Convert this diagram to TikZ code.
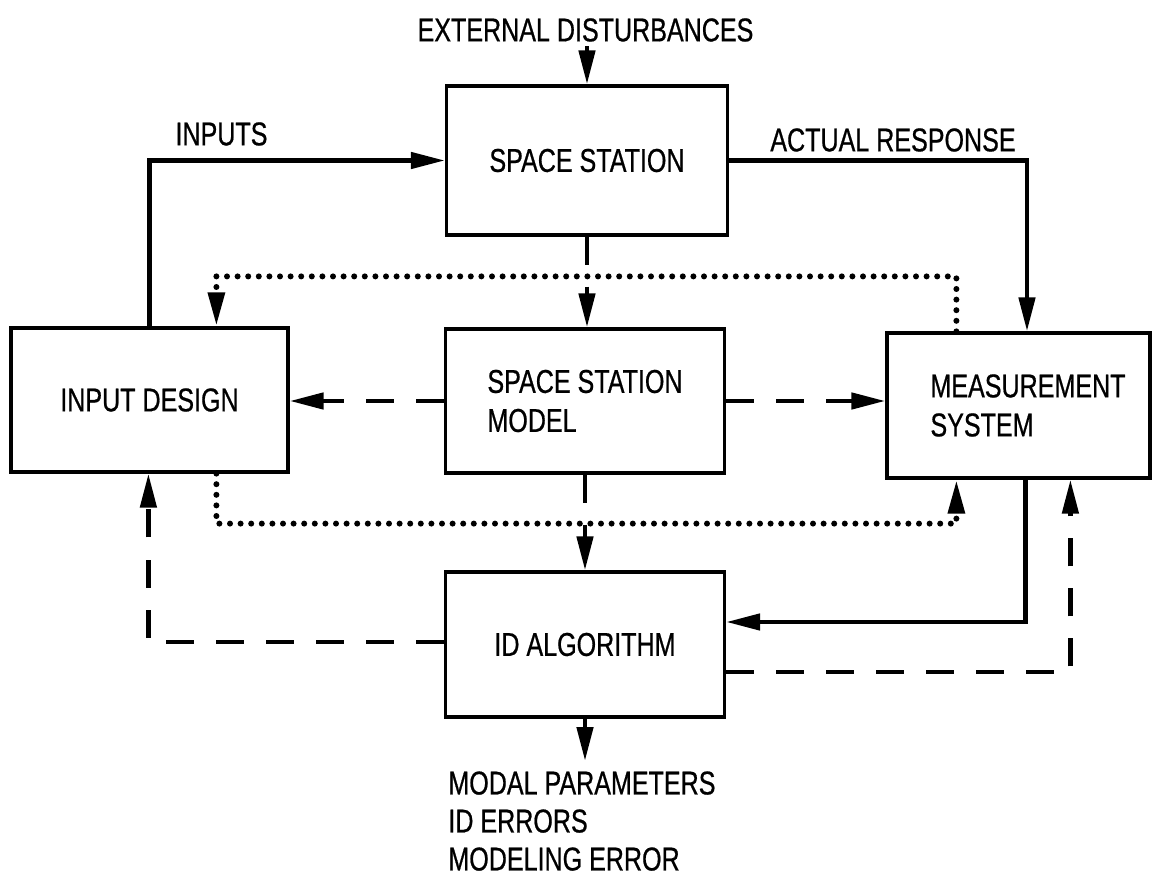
\documentclass[tikz,border=0pt]{standalone}
\usepackage{fontspec}
\setmainfont{Liberation Sans}[FakeStretch=0.76,FakeBold=0.6]
\usetikzlibrary{arrows.meta,calc}
\begin{document}
\begin{tikzpicture}[x=0.5pt,y=-0.5pt,
  every node/.style={font=\fontsize{16.5}{19.5}\selectfont},
  blk/.style={draw, line width=1.6pt, inner sep=0pt, align=left},
  arr/.style={-{Triangle[length=17pt,width=8pt]}},
  solidln/.style={line width=2.3pt},
  dashln/.style={line width=2.3pt, dash pattern=on 14pt off 11pt},
  dotln/.style={line width=3pt, line cap=round, dash pattern=on 0pt off 5.3pt},
  lbl/.style={inner sep=0pt}]
\fill[white] (0,0) rectangle (1158,877);
\useasboundingbox (0,0) rectangle (1158,877);

% blocks
\node[blk, minimum width=140.5pt, minimum height=74.5pt] (ss) at (587,160.5) {SPACE STATION};
\node[blk, minimum width=138.5pt, minimum height=72pt] (id) at (149.5,400) {INPUT DESIGN};
\node[blk, minimum width=139.5pt, minimum height=72pt] (model) at (585,401) {SPACE STATION\\MODEL};
\node[blk, minimum width=131.5pt, minimum height=72.5pt] (ms) at (1018.5,405.5) {\hspace*{9.5pt}MEASUREMENT\\\hspace*{9.5pt}SYSTEM};
\node[blk, minimum width=139.5pt, minimum height=72.5pt] (alg) at (585,644.5) {ID ALGORITHM};

% labels
\node[lbl] (ext) at (585.5,30) {EXTERNAL DISTURBANCES};
\node[lbl] (inp) at (221.5,134) {INPUTS};
\node[lbl] (act) at (893,140) {ACTUAL RESPONSE};
\node[lbl, anchor=north west, align=left, font=\fontsize{16.5}{19}\selectfont] (out) at (448,771) {MODAL PARAMETERS\\ID ERRORS\\MODELING ERROR};

% solid connectors
\draw[solidln,arr] ($(ext.south -| ss.north)+(0,4)$) -- (ss.north);
\draw[solidln,arr] (id.north) |- (ss.west);
\draw[solidln,arr] (ss.east) -| ($(ms.north)+(8.5,0)$);
\draw[solidln,arr] ($(ms.south west)+(140,0)$) |- ($(alg.east)+(0,-22.5)$);
\draw[solidln,arr] (alg.south) -- ($(out.north -| alg.south)+(0,-10)$);

% dashed connectors
\draw[dashln,arr] (ss.south) -- (ss.south |- model.north);
\draw[dashln,arr] (model.west) -- (model.west -| id.east);
\draw[dashln,arr] (model.east) -- (model.east -| ms.west);
\draw[dashln,arr] (model.south) -- (alg.north);
\draw[dashln,arr] ($(alg.east)+(0,27.5)$) -| ($(ms.south west)+(185,0)$);
\draw[dashln,arr] ($(alg.west)+(0,-2.5)$) -| ($(id.south west)+(139,0)$);

% dotted connectors
\draw[dotln,arr] ($(ms.north west)+(71,0)$) -- ++(0,-55) -| ($(id.north west)+(207,0)$);
\draw[dotln,arr] ($(id.south west)+(207,0)$) -- ++(0,50) -| ($(ms.south west)+(71,0)$);
\end{tikzpicture}
\end{document}
